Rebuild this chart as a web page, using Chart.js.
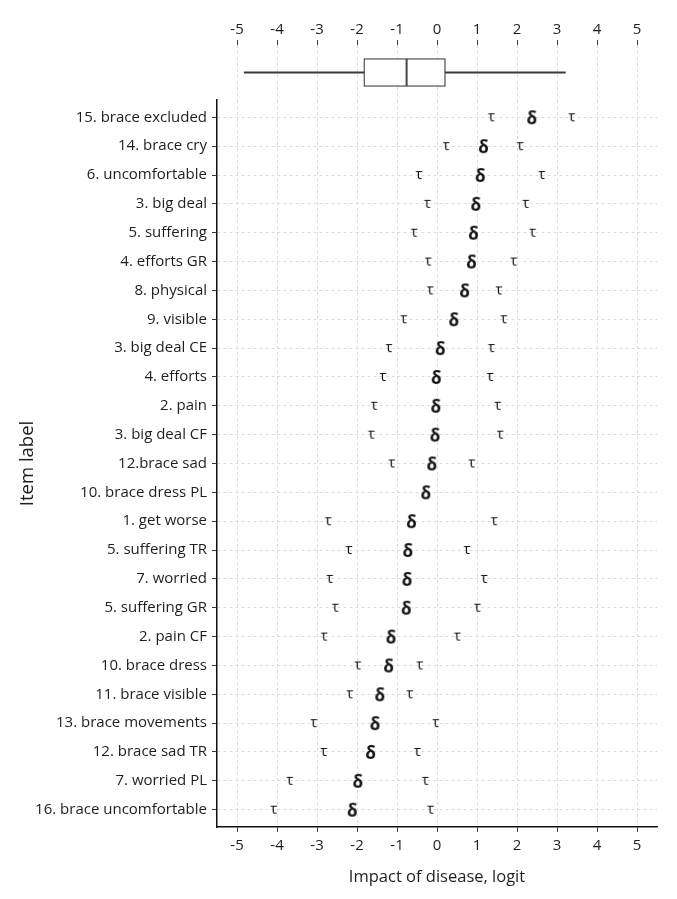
<!DOCTYPE html>
<html>
<head>
<meta charset="utf-8">
<script src="https://cdn.jsdelivr.net/npm/chart.js@4.4.1/dist/chart.umd.min.js"></script>
<style>
    html, body { margin: 0; padding: 0; background: #fff; }
    #wrap { position: relative; width: 677px; height: 899px; }
    #boxBox { position: absolute; left: 0; top: 0; width: 677px; height: 100px; }
    #mainBox { position: absolute; left: 0; top: 80px; width: 677px; height: 819px; }
</style>
</head>
<body>
<div id="wrap">
    <div id="boxBox"><canvas id="graficoBox"></canvas></div>
    <div id="mainBox"><canvas id="graficoItens"></canvas></div>
</div>
<script>
// ========== DADOS ==========

const itemLabels = [
    '15. brace excluded', '14. brace cry', '6. uncomfortable', '3. big deal', '5. suffering',
    '4. efforts GR', '8. physical', '9. visible', '3. big deal CE', '4. efforts',
    '2. pain', '3. big deal CF', '12.brace sad', '10. brace dress PL', '1. get worse',
    '5. suffering TR', '7. worried', '5. suffering GR', '2. pain CF', '10. brace dress',
    '11. brace visible', '13. brace movements', '12. brace sad TR', '7. worried PL', '16. brace uncomfortable'
];
// localização do item (delta)
const delta = [2.37, 1.16, 1.08, 0.97, 0.91, 0.86, 0.69, 0.42, 0.08, -0.02,
               -0.03, -0.05, -0.13, -0.28, -0.64, -0.73, -0.75, -0.77, -1.15, -1.21,
               -1.43, -1.55, -1.66, -1.98, -2.12];
// limiares (tau)
const tau1 = [1.36, 0.23, -0.45, -0.24, -0.57, -0.22, -0.17, -0.83, -1.20, -1.35,
              -1.57, -1.64, -1.13, null, -2.72, -2.20, -2.68, -2.54, -2.82, -1.98,
              -2.18, -3.08, -2.83, -3.68, -4.08];
const tau2 = [3.37, 2.08, 2.62, 2.22, 2.39, 1.92, 1.55, 1.67, 1.36, 1.33,
              1.52, 1.58, 0.87, null, 1.43, 0.75, 1.18, 1.01, 0.51, -0.43,
              -0.68, -0.03, -0.49, -0.29, -0.16];
// boxplot das pessoas
const boxMin = -4.82, q1 = -1.83, median = -0.76, q3 = 0.21, boxMax = 3.21;
const xTicks = [-5, -4, -3, -2, -1, 0, 1, 2, 3, 4, 5];

// ========== ESTILO ==========

const fonte = '"Open Sans", "Noto Sans", sans-serif';
const corTexto = '#1e1e1e';
const corLinha = '#3a3a3a';
const corGrade = '#d4d4d4';

function pontos(arr) {
    return arr.map((v, i) => ({ x: v, y: i })).filter(p => p.x !== null);
}

// desenha um caractere num canvas para usar como pointStyle
function glifo(ch, font) {
    const c = document.createElement('canvas');
    let g = c.getContext('2d');
    g.font = font;
    const m = g.measureText(ch);
    const w = Math.ceil(m.width) + 4;
    const h = Math.ceil(m.actualBoundingBoxAscent + m.actualBoundingBoxDescent) + 4;
    c.width = w; c.height = h;
    g = c.getContext('2d');
    g.font = font;
    g.fillStyle = '#111';
    g.textAlign = 'center';
    g.textBaseline = 'alphabetic';
    g.fillText(ch, w / 2, h / 2 + (m.actualBoundingBoxAscent - m.actualBoundingBoxDescent) / 2);
    return c;
}

const fixarTicks = scale => { scale.ticks = xTicks.map(v => ({ value: v })); };

// ========== BOXPLOT (TOPO) ==========

new Chart(document.getElementById('graficoBox'), {
    type: 'bar',
    data: {
        labels: ['pessoas'],
        datasets: [
            { data: [[boxMin, q1]], barThickness: 1.3, backgroundColor: corLinha, grouped: false },
            { data: [[q3, boxMax]], barThickness: 1.3, backgroundColor: corLinha, grouped: false },
            { data: [[q1, median]], barThickness: 28, backgroundColor: '#fff', borderColor: corLinha, borderWidth: 1.3, borderSkipped: false, grouped: false },
            { data: [[median, q3]], barThickness: 28, backgroundColor: '#fff', borderColor: corLinha, borderWidth: 1.3, borderSkipped: false, grouped: false }
        ]
    },
    options: {
        indexAxis: 'y',
        responsive: true,
        maintainAspectRatio: false,
        animation: false,
        events: [],
        layout: { padding: { left: 217, right: 20, top: 0, bottom: 0 } },
        plugins: { legend: { display: false }, tooltip: { enabled: false } },
        scales: {
            x: {
                position: 'top',
                min: -5.5, max: 5.5,
                afterBuildTicks: fixarTicks,
                afterFit: s => { s.height = 45; },
                ticks: { font: { family: fonte, size: 15 }, color: corTexto, padding: 1, maxRotation: 0 },
                grid: { color: corGrade, lineWidth: 0.8, tickColor: corLinha, tickLength: 5, tickWidth: 1 },
                border: { display: false, dash: [3, 3] }
            },
            y: { display: false }
        }
    }
});

// ========== ITENS (PRINCIPAL) ==========

const eixoGrade = { color: corGrade, lineWidth: 0.8, tickColor: corLinha, tickLength: 5, tickWidth: 1 };
const eixoBorda = { display: true, color: '#111', width: 1.5, dash: [3, 3] };

new Chart(document.getElementById('graficoItens'), {
    type: 'scatter',
    data: {
        datasets: [
            { label: 'δ', data: pontos(delta), pointStyle: glifo('δ', 'bold 17px ' + fonte) },
            { label: 'τ1', data: pontos(tau1), pointStyle: glifo('τ', '15px ' + fonte) },
            { label: 'τ2', data: pontos(tau2), pointStyle: glifo('τ', '15px ' + fonte) }
        ]
    },
    options: {
        responsive: true,
        maintainAspectRatio: false,
        animation: false,
        events: [],
        layout: { padding: { left: 0, right: 20, top: 20, bottom: 0 } },
        plugins: { legend: { display: false }, tooltip: { enabled: false } },
        scales: {
            x: {
                type: 'linear',
                position: 'bottom',
                min: -5.5, max: 5.5,
                afterBuildTicks: fixarTicks,
                afterFit: s => { s.height = 72; },
                ticks: { font: { family: fonte, size: 15 }, color: corTexto, padding: 5, maxRotation: 0 },
                title: { display: true, text: 'Impact of disease, logit', color: corTexto, font: { family: fonte, size: 16.5 }, padding: { top: 0, bottom: 12 } },
                grid: eixoGrade,
                border: eixoBorda
            },
            y: {
                type: 'linear',
                reverse: true,
                min: -0.6, max: 24.6,
                afterBuildTicks: s => { s.ticks = itemLabels.map((_, i) => ({ value: i })); },
                afterFit: s => { s.width = 217; },
                ticks: { font: { family: fonte, size: 15 }, color: corTexto, padding: 5, callback: v => itemLabels[v] },
                title: { display: true, text: 'Item label', color: corTexto, font: { family: fonte, size: 18.5 }, padding: { top: 17, bottom: 0 } },
                grid: eixoGrade,
                border: eixoBorda
            }
        }
    }
});
</script>
</body>
</html>
